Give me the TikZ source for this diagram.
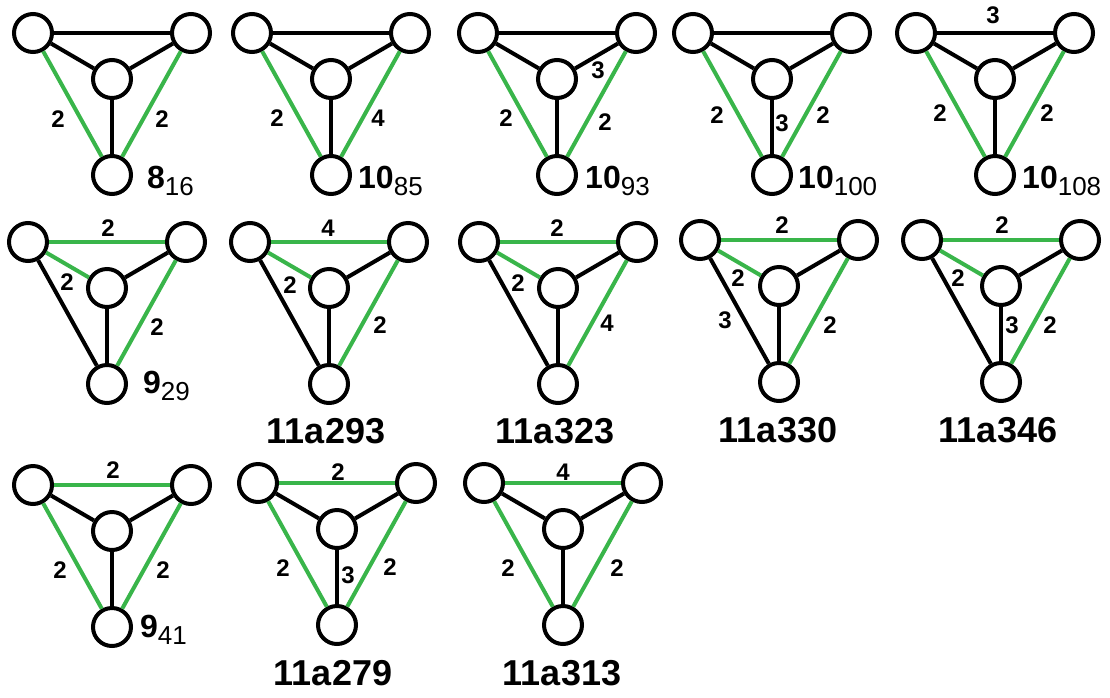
\documentclass[tikz,border=0pt]{standalone}
\usepackage{fontspec}
\setmainfont{Liberation Sans}
\definecolor{edgegreen}{RGB}{57,181,74}
\tikzset{
  vtx/.style={circle, draw=black, line width=4pt, fill=white, minimum size=38pt, inner sep=0pt},
  blk/.style={draw=black, line width=4pt},
  gedge/.style={draw=edgegreen, line width=4pt},
  lbl/.style={font=\fontsize{24}{24}\selectfont\bfseries, inner sep=0pt},
  knot/.style={anchor=base west, inner sep=0pt},
  nm/.style={anchor=base, inner sep=0pt, font=\fontsize{36}{36}\selectfont\bfseries}
}
\newcommand\putverts[3]{%
  \node[vtx] (#1a) at ({#2-79},{#3}) {};
  \node[vtx] (#1b) at ({#2+79},{#3}) {};
  \node[vtx] (#1c) at ({#2},{#3+46}) {};
  \node[vtx] (#1d) at ({#2},{#3+142}) {};}
\newcommand\knotlab[2]{{\fontsize{32}{32}\selectfont\bfseries #1}{\fontsize{26}{26}\selectfont\raisebox{-7pt}{#2}}}
\begin{document}
\begin{tikzpicture}[x=1pt,y=-1pt]
\useasboundingbox (0,0) rectangle (1110,697);
% ---------- Row 1 ----------
% G1: 8_16
\putverts{g1}{112}{33}
\draw[blk] (g1a) -- (g1b); \draw[gedge] (g1a) -- (g1d); \draw[gedge] (g1b) -- (g1d);
\draw[blk] (g1a) -- (g1c); \draw[blk] (g1b) -- (g1c); \draw[blk] (g1c) -- (g1d);
\node[lbl] (g1l1) at (58,119) {2};
\node[lbl] (g1l2) at (162,119) {2};
\node[knot] (g1n) at (147,188) {\knotlab{8}{16}};
% G2: 10_85
\putverts{g2}{331}{33}
\draw[blk] (g2a) -- (g2b); \draw[gedge] (g2a) -- (g2d); \draw[gedge] (g2b) -- (g2d);
\draw[blk] (g2a) -- (g2c); \draw[blk] (g2b) -- (g2c); \draw[blk] (g2c) -- (g2d);
\node[lbl] (g2l1) at (277,118) {2};
\node[lbl] (g2l2) at (378,118) {4};
\node[knot] (g2n) at (358,188) {\knotlab{10}{85}};
% G3: 10_93
\putverts{g3}{557}{33}
\draw[blk] (g3a) -- (g3b); \draw[gedge] (g3a) -- (g3d); \draw[gedge] (g3b) -- (g3d);
\draw[blk] (g3a) -- (g3c); \draw[blk] (g3b) -- (g3c); \draw[blk] (g3c) -- (g3d);
\node[lbl] (g3l1) at (506,118) {2};
\node[lbl] (g3l2) at (605,122) {2};
\node[lbl] (g3l3) at (598,70) {3};
\node[knot] (g3n) at (585,188) {\knotlab{10}{93}};
% G4: 10_100
\putverts{g4}{772}{33}
\draw[blk] (g4a) -- (g4b); \draw[gedge] (g4a) -- (g4d); \draw[gedge] (g4b) -- (g4d);
\draw[blk] (g4a) -- (g4c); \draw[blk] (g4b) -- (g4c); \draw[blk] (g4c) -- (g4d);
\node[lbl] (g4l1) at (717,115) {2};
\node[lbl] (g4l2) at (823,115) {2};
\node[lbl] (g4l3) at (782,123) {3};
\node[knot] (g4n) at (798,188) {\knotlab{10}{100}};
% G5: 10_108
\putverts{g5}{995}{33}
\draw[blk] (g5a) -- (g5b); \draw[gedge] (g5a) -- (g5d); \draw[gedge] (g5b) -- (g5d);
\draw[blk] (g5a) -- (g5c); \draw[blk] (g5b) -- (g5c); \draw[blk] (g5c) -- (g5d);
\node[lbl] (g5l1) at (940,113) {2};
\node[lbl] (g5l2) at (1047,113) {2};
\node[lbl] (g5l3) at (993,15) {3};
\node[knot] (g5n) at (1022,188) {\knotlab{10}{108}};
% ---------- Row 2 ----------
% G6: 9_29
\putverts{g6}{107}{242}
\draw[gedge] (g6a) -- (g6b); \draw[blk] (g6a) -- (g6d); \draw[gedge] (g6b) -- (g6d);
\draw[gedge] (g6a) -- (g6c); \draw[blk] (g6b) -- (g6c); \draw[blk] (g6c) -- (g6d);
\node[lbl] (g6l1) at (108,228) {2};
\node[lbl] (g6l2) at (67,282) {2};
\node[lbl] (g6l3) at (157,327) {2};
\node[knot] (g6n) at (143,393) {\knotlab{9}{29}};
% G7: 11a293
\putverts{g7}{329}{242}
\draw[gedge] (g7a) -- (g7b); \draw[blk] (g7a) -- (g7d); \draw[gedge] (g7b) -- (g7d);
\draw[gedge] (g7a) -- (g7c); \draw[blk] (g7b) -- (g7c); \draw[blk] (g7c) -- (g7d);
\node[lbl] (g7l1) at (328,228) {4};
\node[lbl] (g7l2) at (290,285) {2};
\node[lbl] (g7l3) at (380,325) {2};
\node[nm] (g7n) at (326,443) {11a293};
% G8: 11a323
\putverts{g8}{558}{242}
\draw[gedge] (g8a) -- (g8b); \draw[blk] (g8a) -- (g8d); \draw[gedge] (g8b) -- (g8d);
\draw[gedge] (g8a) -- (g8c); \draw[blk] (g8b) -- (g8c); \draw[blk] (g8c) -- (g8d);
\node[lbl] (g8l1) at (557,228) {2};
\node[lbl] (g8l2) at (518,283) {2};
\node[lbl] (g8l3) at (607,323) {4};
\node[nm] (g8n) at (555,443) {11a323};
% G9: 11a330
\putverts{g9}{779}{240}
\draw[gedge] (g9a) -- (g9b); \draw[blk] (g9a) -- (g9d); \draw[gedge] (g9b) -- (g9d);
\draw[gedge] (g9a) -- (g9c); \draw[blk] (g9b) -- (g9c); \draw[blk] (g9c) -- (g9d);
\node[lbl] (g9l1) at (782,225) {2};
\node[lbl] (g9l2) at (738,278) {2};
\node[lbl] (g9l3) at (725,320) {3};
\node[lbl] (g9l4) at (830,325) {2};
\node[nm] (g9n) at (778,442) {11a330};
% G10: 11a346
\putverts{g10}{1001}{240}
\draw[gedge] (g10a) -- (g10b); \draw[blk] (g10a) -- (g10d); \draw[gedge] (g10b) -- (g10d);
\draw[gedge] (g10a) -- (g10c); \draw[blk] (g10b) -- (g10c); \draw[blk] (g10c) -- (g10d);
\node[lbl] (g10l1) at (1002,225) {2};
\node[lbl] (g10l2) at (958,278) {2};
\node[lbl] (g10l3) at (1012,325) {3};
\node[lbl] (g10l4) at (1050,325) {2};
\node[nm] (g10n) at (998,442) {11a346};
% ---------- Row 3 ----------
% G11: 9_41
\putverts{g11}{112}{485}
\draw[gedge] (g11a) -- (g11b); \draw[gedge] (g11a) -- (g11d); \draw[gedge] (g11b) -- (g11d);
\draw[blk] (g11a) -- (g11c); \draw[blk] (g11b) -- (g11c); \draw[blk] (g11c) -- (g11d);
\node[lbl] (g11l1) at (113,470) {2};
\node[lbl] (g11l2) at (60,570) {2};
\node[lbl] (g11l3) at (163,570) {2};
\node[knot] (g11n) at (140,637) {\knotlab{9}{41}};
% G12: 11a279
\putverts{g12}{337}{483}
\draw[gedge] (g12a) -- (g12b); \draw[gedge] (g12a) -- (g12d); \draw[gedge] (g12b) -- (g12d);
\draw[blk] (g12a) -- (g12c); \draw[blk] (g12b) -- (g12c); \draw[blk] (g12c) -- (g12d);
\node[lbl] (g12l1) at (338,472) {2};
\node[lbl] (g12l2) at (283,568) {2};
\node[lbl] (g12l3) at (348,575) {3};
\node[lbl] (g12l4) at (390,567) {2};
\node[nm] (g12n) at (333,685) {11a279};
% G13: 11a313
\putverts{g13}{563}{483}
\draw[gedge] (g13a) -- (g13b); \draw[gedge] (g13a) -- (g13d); \draw[gedge] (g13b) -- (g13d);
\draw[blk] (g13a) -- (g13c); \draw[blk] (g13b) -- (g13c); \draw[blk] (g13c) -- (g13d);
\node[lbl] (g13l1) at (563,472) {4};
\node[lbl] (g13l2) at (508,568) {2};
\node[lbl] (g13l3) at (617,568) {2};
\node[nm] (g13n) at (562,685) {11a313};
\end{tikzpicture}
\end{document}
